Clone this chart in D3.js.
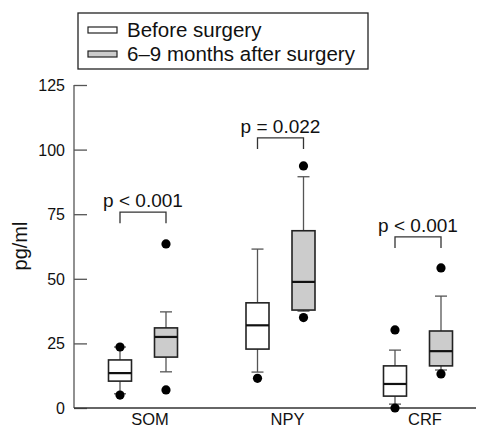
<!DOCTYPE html>
<html>
<head>
<meta charset="utf-8">
<script src="https://cdn.jsdelivr.net/npm/d3@7"></script>
<style>
  body { margin: 0; background: #fff; }
  svg text { font-family: "Liberation Sans", Arial, sans-serif; fill: #111; }
</style>
</head>
<body>
<div id="chart"></div>
<script>
// values (pg/ml)
var categories = ["SOM", "NPY", "CRF"];
var groups = ["Before surgery", "6\u20139 months after surgery"];
var groupFills = ["#ffffff", "#cccccc"];

// per category: [low dot, low whisker, q1, median, q3, high whisker, high dot]
var before = [
    [5, 5.5, 10.4, 13.5, 18.6, 23.6, 23.6],
    [11.5, 13.9, 22.8, 32, 40.7, 61.5, null],
    [0, 1.5, 4.6, 9.3, 16.3, 22.4, 30.2]
];
var after = [
    [7, 14, 19.7, 27.5, 31, 37.2, 63.5],
    [35, 37.5, 37.9, 48.8, 68.6, 89.5, 93.7],
    [13.2, 14.7, 16.3, 22, 29.8, 43.3, 54.2]
];
var pLabels = ["p < 0.001", "p = 0.022", "p < 0.001"];
var pHeights = [75.8, 104.5, 66.2];
var yTicks = [0, 25, 50, 75, 100, 125];

function start(){
    var width = 479, height = 430;
    var svg = d3.select("#chart").append("svg")
                .attr("width", width)
                .attr("height", height);

    var yScale = d3.scaleLinear().domain([0, 125]).range([408, 85]);
    var xScale = d3.scalePoint().domain(categories).range([120, 395]);
    var gScale = d3.scalePoint().domain(groups).range([0, 46]);
    var boxW = 23, capW = 12;

    // axes
    var yAxis = svg.append("g").attr("transform", "translate(74,0)")
                   .call(d3.axisRight(yScale).tickValues(yTicks).tickSize(13).tickFormat(d3.format("d")));
    yAxis.select(".domain").remove();
    yAxis.selectAll(".tick line").attr("stroke", "#555").attr("stroke-width", 1.3);
    yAxis.selectAll(".tick text")
         .attr("x", -9).attr("dy", "0.34em")
         .attr("text-anchor", "end")
         .style("font-size", "16px");
    yAxis.append("line")
         .attr("x1", 0).attr("x2", 0)
         .attr("y1", yScale(125)).attr("y2", yScale(0))
         .attr("stroke", "#555").attr("stroke-width", 1.3);

    svg.append("line")
       .attr("x1", 74).attr("x2", 476)
       .attr("y1", yScale(0)).attr("y2", yScale(0))
       .attr("stroke", "#333").attr("stroke-width", 1.3);

    svg.selectAll(".cat")
       .data(categories).enter()
       .append("text")
       .attr("x", d => xScale(d) + 30)
       .attr("y", 430 - 5)
       .attr("text-anchor", "middle")
       .style("font-size", "16.5px")
       .text(d => d);

    svg.append("text")
       .attr("transform", "translate(27,246) rotate(-90)")
       .attr("text-anchor", "middle")
       .style("font-size", "20px")
       .text("pg/ml");

    // boxes
    var series = [before, after];
    series.forEach(function(rows, gi){
        var g = svg.append("g");
        rows.forEach(function(v, ci){
            var cx = xScale(categories[ci]) + gScale(groups[gi]);
            // whiskers
            g.append("line").attr("x1", cx).attr("x2", cx)
             .attr("y1", yScale(v[4])).attr("y2", yScale(v[5]))
             .attr("stroke", "#555").attr("stroke-width", 1.3);
            g.append("line").attr("x1", cx).attr("x2", cx)
             .attr("y1", yScale(v[2])).attr("y2", yScale(v[1]))
             .attr("stroke", "#555").attr("stroke-width", 1.3);
            [v[1], v[5]].forEach(function(w){
                g.append("line")
                 .attr("x1", cx - capW / 2).attr("x2", cx + capW / 2)
                 .attr("y1", yScale(w)).attr("y2", yScale(w))
                 .attr("stroke", "#555").attr("stroke-width", 1.3);
            });
            g.append("rect")
             .attr("x", cx - boxW / 2).attr("width", boxW)
             .attr("y", yScale(v[4])).attr("height", yScale(v[2]) - yScale(v[4]))
             .attr("fill", groupFills[gi])
             .attr("stroke", "#222").attr("stroke-width", 1.6);
            g.append("line")
             .attr("x1", cx - boxW / 2).attr("x2", cx + boxW / 2)
             .attr("y1", yScale(v[3])).attr("y2", yScale(v[3]))
             .attr("stroke", "#111").attr("stroke-width", 2.2);
            [v[0], v[6]].forEach(function(o){
                if (o === null) return;
                g.append("circle")
                 .attr("cx", cx).attr("cy", yScale(o))
                 .attr("r", 4.6).attr("fill", "#000");
            });
        });
    });

    // significance brackets
    categories.forEach(function(c, ci){
        var x1 = xScale(c) + gScale(groups[0]);
        var x2 = xScale(c) + gScale(groups[1]);
        var yt = yScale(pHeights[ci]);
        svg.append("path")
           .attr("d", "M" + x1 + "," + (yt + 11) + "V" + yt + "H" + x2 + "V" + (yt + 11))
           .attr("fill", "none").attr("stroke", "#333").attr("stroke-width", 1.3);
        svg.append("text")
           .attr("x", (x1 + x2) / 2)
           .attr("y", yt - 5)
           .attr("text-anchor", "middle")
           .style("font-size", "19px")
           .text(pLabels[ci]);
    });

    // legend
    var legend = svg.append("g");
    legend.append("rect")
          .attr("x", 78).attr("y", 13).attr("width", 290).attr("height", 56)
          .attr("fill", "#fff").attr("stroke", "#222").attr("stroke-width", 1.3);
    groups.forEach(function(gName, gi){
        var yc = 30 + gi * 24;
        legend.append("rect")
              .attr("x", 88).attr("y", yc - 3).attr("width", 29).attr("height", 6)
              .attr("fill", groupFills[gi]).attr("stroke", "#222").attr("stroke-width", 1.2);
        legend.append("text")
              .attr("x", 127).attr("y", yc + 7)
              .style("font-size", "20.5px")
              .text(gName);
    });
}

start();
</script>
</body>
</html>
